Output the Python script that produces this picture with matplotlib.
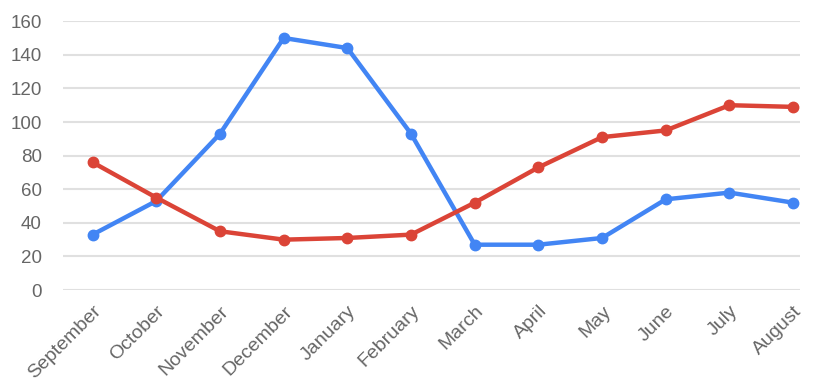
import matplotlib.pyplot as plt

plt.rcParams['font.family'] = ['Liberation Sans', 'DejaVu Sans']

months = ['September', 'October', 'November', 'December', 'January', 'February',
          'March', 'April', 'May', 'June', 'July', 'August']
blue_values = [33, 53, 93, 150, 144, 93, 27, 27, 31, 54, 58, 52]
red_values = [76, 55, 35, 30, 31, 33, 52, 73, 91, 95, 110, 109]
y_ticks = [0, 20, 40, 60, 80, 100, 120, 140, 160]

fig = plt.figure(figsize=(8.14, 3.92), dpi=100)
ax = fig.add_axes([0.077, 0.26, 0.906, 0.686])

x = range(len(months))
ax.plot(x, blue_values, color='#4285F4', linewidth=3.2, marker='o', markersize=7.5,
        solid_capstyle='round', zorder=3)
ax.plot(x, red_values, color='#DB4437', linewidth=3.2, marker='o', markersize=7.5,
        solid_capstyle='round', zorder=4)

ax.set_ylim(0, 160)
ax.set_xlim(-0.47, 11.11)
ax.set_yticks(y_ticks)
ax.set_yticklabels([str(v) for v in y_ticks], fontsize=13.5, color='#666666')
ax.set_xticks(list(x))
ax.set_xticklabels(months, fontsize=14, color='#666666', rotation=45,
                   ha='right', rotation_mode='anchor')

# light horizontal gridlines only, no frame
ax.grid(axis='y', color='#e0e0e0', linewidth=1.5)
ax.set_axisbelow(True)
for spine in ax.spines.values():
    spine.set_visible(False)
ax.tick_params(axis='both', length=0)
ax.tick_params(axis='y', pad=15)
ax.tick_params(axis='x', pad=9)

fig.savefig('out.png', dpi=100)
